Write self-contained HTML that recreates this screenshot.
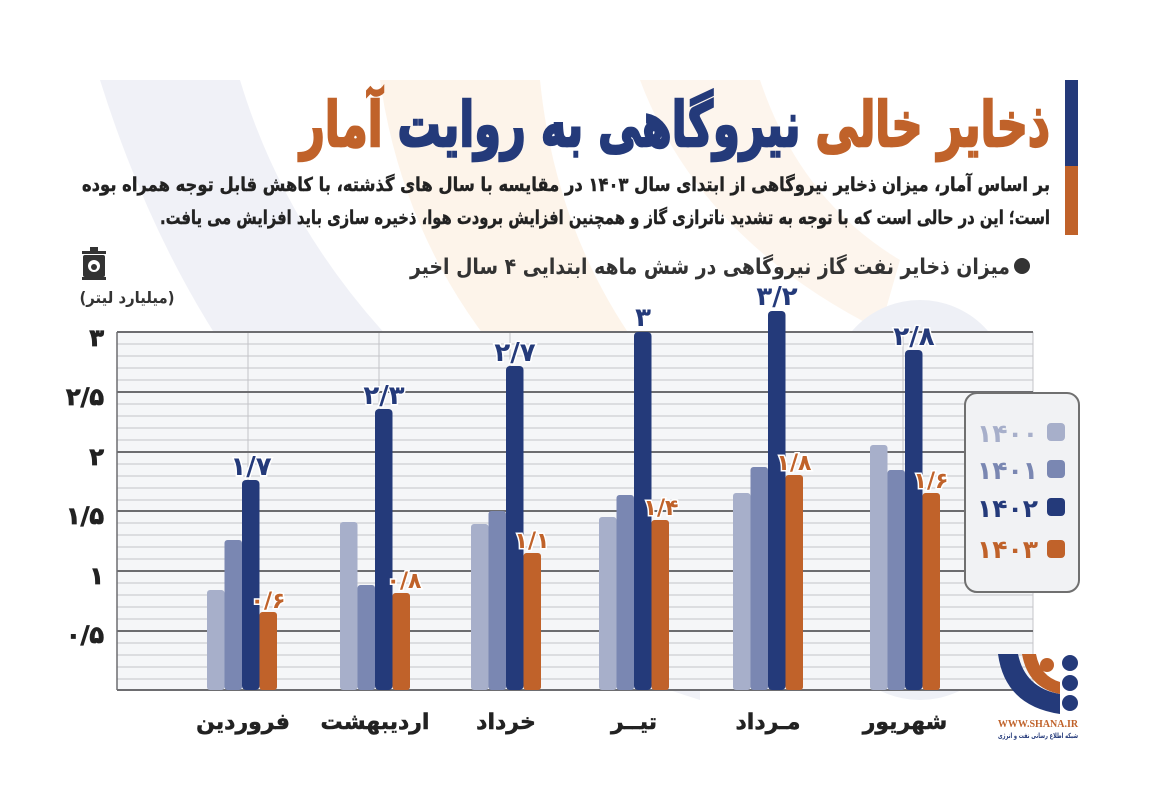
<!DOCTYPE html>
<html><head><meta charset="utf-8"><style>
html,body{margin:0;padding:0;background:#fff;}
svg{display:block;}
text{font-family:"DejaVu Sans",sans-serif;font-weight:bold;}
</style></head><body>
<svg width="1160" height="801" viewBox="0 0 1160 801" xmlns="http://www.w3.org/2000/svg">
<rect width="1160" height="801" fill="#fff"/>
<path d="M100 80 L240 80 Q330 380 700 560 L700 700 Q250 560 100 80 Z" fill="#eef0f6" opacity="0.9"/>
<path d="M380 80 L540 80 Q560 280 700 420 L700 520 Q420 360 380 80 Z" fill="#fdf3e8" opacity="0.9"/>
<path d="M640 80 L760 80 Q800 200 900 260 L880 330 Q700 240 640 80 Z" fill="#fdf3e8" opacity="0.8"/>
<circle cx="920" cy="390" r="90" fill="#eef0f6"/>
<circle cx="920" cy="610" r="90" fill="#eef0f6"/>
<rect x="830" y="390" width="180" height="220" fill="#eef0f6"/>

<rect x="1065" y="80" width="13" height="86" fill="#243a7a"/>
<rect x="1065" y="166" width="13" height="69" fill="#c0622a"/>

<text x="675" y="146" font-size="62" text-anchor="middle" direction="rtl" textLength="750" lengthAdjust="spacingAndGlyphs" stroke-width="2.5"><tspan fill="#c0622a" stroke="#c0622a">ذخایر خالی </tspan><tspan fill="#243a7a" stroke="#243a7a">نیروگاهی به روایت </tspan><tspan fill="#c0622a" stroke="#c0622a">آمار</tspan></text>

<text x="566" y="191" font-size="19" fill="#222" stroke="#222" stroke-width="0.4" text-anchor="middle" direction="rtl" textLength="968" lengthAdjust="spacingAndGlyphs">بر اساس آمار، میزان ذخایر نیروگاهی از ابتدای سال ۱۴۰۳ در مقایسه با سال های گذشته، با کاهش قابل توجه همراه بوده</text>
<text x="605" y="224" font-size="19" fill="#222" stroke="#222" stroke-width="0.4" text-anchor="middle" direction="rtl" textLength="890" lengthAdjust="spacingAndGlyphs">است؛ این در حالی است که با توجه به تشدید ناترازی گاز و همچنین افزایش برودت هوا، ذخیره سازی باید افزایش می یافت.</text>

<circle cx="1022" cy="266" r="8" fill="#333"/>
<text x="710" y="274" font-size="22" fill="#333" text-anchor="middle" direction="rtl" textLength="600" lengthAdjust="spacingAndGlyphs">میزان ذخایر نفت گاز نیروگاهی در شش ماهه ابتدایی ۴ سال اخیر</text>

<g fill="#333">
<rect x="82" y="251" width="24" height="3"/>
<rect x="90" y="247" width="8" height="4"/>
<rect x="83" y="255" width="22" height="22" rx="2"/>
<rect x="82" y="277" width="24" height="3"/>
<circle cx="94" cy="266" r="6" fill="#fff"/>
<circle cx="94" cy="267" r="3" fill="#333"/>
</g>
<text x="127" y="303" font-size="16" fill="#333" text-anchor="middle" direction="rtl" textLength="95" lengthAdjust="spacingAndGlyphs">(میلیارد لیتر)</text>

<rect x="117" y="332" width="916" height="358" fill="#f5f6f8"/>
<g stroke="#c4c4c8" stroke-width="1">
<line x1="117" x2="1033" y1="344" y2="344"/><line x1="117" x2="1033" y1="356" y2="356"/><line x1="117" x2="1033" y1="368" y2="368"/><line x1="117" x2="1033" y1="380" y2="380"/>
<line x1="117" x2="1033" y1="404" y2="404"/><line x1="117" x2="1033" y1="416" y2="416"/><line x1="117" x2="1033" y1="428" y2="428"/><line x1="117" x2="1033" y1="440" y2="440"/>
<line x1="117" x2="1033" y1="464" y2="464"/><line x1="117" x2="1033" y1="476" y2="476"/><line x1="117" x2="1033" y1="488" y2="488"/><line x1="117" x2="1033" y1="500" y2="500"/>
<line x1="117" x2="1033" y1="523" y2="523"/><line x1="117" x2="1033" y1="535" y2="535"/><line x1="117" x2="1033" y1="547" y2="547"/><line x1="117" x2="1033" y1="559" y2="559"/>
<line x1="117" x2="1033" y1="583" y2="583"/><line x1="117" x2="1033" y1="595" y2="595"/><line x1="117" x2="1033" y1="607" y2="607"/><line x1="117" x2="1033" y1="619" y2="619"/>
<line x1="117" x2="1033" y1="643" y2="643"/><line x1="117" x2="1033" y1="655" y2="655"/><line x1="117" x2="1033" y1="667" y2="667"/><line x1="117" x2="1033" y1="679" y2="679"/>
<line x1="248" x2="248" y1="332" y2="690"/><line x1="379" x2="379" y1="332" y2="690"/><line x1="510" x2="510" y1="332" y2="690"/><line x1="641" x2="641" y1="332" y2="690"/><line x1="772" x2="772" y1="332" y2="690"/><line x1="903" x2="903" y1="332" y2="690"/>
<line x1="1033" x2="1033" y1="332" y2="690"/>
</g>
<g stroke="#6d6d70" stroke-width="2">
<line x1="117" x2="1033" y1="332" y2="332"/><line x1="117" x2="1033" y1="392" y2="392"/><line x1="117" x2="1033" y1="452" y2="452"/><line x1="117" x2="1033" y1="511" y2="511"/><line x1="117" x2="1033" y1="571" y2="571"/><line x1="117" x2="1033" y1="631" y2="631"/><line x1="117" x2="1033" y1="690" y2="690"/>
<line x1="117" x2="117" y1="332" y2="690" stroke-width="1.5"/>
</g>

<g font-size="24" fill="#222" stroke="#222" stroke-width="0.8" text-anchor="end">
<text x="104" y="346">۳</text><text x="104" y="405">۲/۵</text><text x="104" y="465">۲</text><text x="104" y="524">۱/۵</text><text x="104" y="584">۱</text><text x="104" y="643">۰/۵</text>
</g>

<g>
<rect x="207" y="590" width="17.5" height="100" rx="3" fill="#a7afca"/>
<rect x="224.5" y="540" width="17.5" height="150" rx="3" fill="#7a87b2"/>
<rect x="242" y="480" width="17.5" height="210" rx="4" fill="#243a7a"/>
<rect x="259.5" y="612" width="17.5" height="78" rx="3" fill="#c0622a"/>
<rect x="340" y="522" width="17.5" height="168" rx="3" fill="#a7afca"/>
<rect x="357.5" y="585" width="17.5" height="105" rx="3" fill="#7a87b2"/>
<rect x="375" y="409" width="17.5" height="281" rx="4" fill="#243a7a"/>
<rect x="392.5" y="593" width="17.5" height="97" rx="3" fill="#c0622a"/>
<rect x="471" y="524" width="17.5" height="166" rx="3" fill="#a7afca"/>
<rect x="488.5" y="511" width="17.5" height="179" rx="3" fill="#7a87b2"/>
<rect x="506" y="366" width="17.5" height="324" rx="4" fill="#243a7a"/>
<rect x="523.5" y="553" width="17.5" height="137" rx="3" fill="#c0622a"/>
<rect x="599" y="517" width="17.5" height="173" rx="3" fill="#a7afca"/>
<rect x="616.5" y="495" width="17.5" height="195" rx="3" fill="#7a87b2"/>
<rect x="634" y="332" width="17.5" height="358" rx="4" fill="#243a7a"/>
<rect x="651.5" y="520" width="17.5" height="170" rx="3" fill="#c0622a"/>
<rect x="733" y="493" width="17.5" height="197" rx="3" fill="#a7afca"/>
<rect x="750.5" y="467" width="17.5" height="223" rx="3" fill="#7a87b2"/>
<rect x="768" y="311" width="17.5" height="379" rx="4" fill="#243a7a"/>
<rect x="785.5" y="475" width="17.5" height="215" rx="3" fill="#c0622a"/>
<rect x="870" y="445" width="17.5" height="245" rx="3" fill="#a7afca"/>
<rect x="887.5" y="470" width="17.5" height="220" rx="3" fill="#7a87b2"/>
<rect x="905" y="350" width="17.5" height="340" rx="4" fill="#243a7a"/>
<rect x="922.5" y="493" width="17.5" height="197" rx="3" fill="#c0622a"/>
</g>

<g font-size="26" fill="#243a7a" text-anchor="middle">
<text x="251" y="475" stroke="#fff" stroke-width="3" paint-order="stroke">۱/۷</text>
<text x="384" y="404" stroke="#fff" stroke-width="3" paint-order="stroke">۲/۳</text>
<text x="515" y="361" stroke="#fff" stroke-width="3" paint-order="stroke">۲/۷</text>
<text x="643" y="326" stroke="#fff" stroke-width="3" paint-order="stroke">۳</text>
<text x="777" y="305" stroke="#fff" stroke-width="3" paint-order="stroke">۳/۲</text>
<text x="914" y="345" stroke="#fff" stroke-width="3" paint-order="stroke">۲/۸</text>
</g>
<g font-size="22" fill="#c0622a" text-anchor="middle">
<text x="268" y="608" stroke="#fff" stroke-width="3" paint-order="stroke">۰/۶</text>
<text x="404" y="588" stroke="#fff" stroke-width="3" paint-order="stroke">۰/۸</text>
<text x="532" y="548" stroke="#fff" stroke-width="3" paint-order="stroke">۱/۱</text>
<text x="661" y="515" stroke="#fff" stroke-width="3" paint-order="stroke">۱/۴</text>
<text x="794" y="470" stroke="#fff" stroke-width="3" paint-order="stroke">۱/۸</text>
<text x="931" y="488" stroke="#fff" stroke-width="3" paint-order="stroke">۱/۶</text>
</g>

<g font-size="22" fill="#222" stroke="#222" stroke-width="0.5" text-anchor="middle">
<text x="243" y="729" direction="rtl">فروردین</text>
<text x="375" y="729" direction="rtl">اردیبهشت</text>
<text x="506" y="729" direction="rtl">خرداد</text>
<text x="634" y="729" direction="rtl">تیــر</text>
<text x="768" y="729" direction="rtl">مـرداد</text>
<text x="905" y="729" direction="rtl">شهریور</text>
</g>

<rect x="965" y="393" width="114" height="199" rx="12" fill="#f1f2f4" stroke="#707070" stroke-width="2"/>
<g font-size="25" text-anchor="end">
<text x="1038" y="442" fill="#a7afca">۱۴۰۰</text>
<text x="1038" y="479" fill="#7a87b2">۱۴۰۱</text>
<text x="1038" y="517" fill="#243a7a">۱۴۰۲</text>
<text x="1038" y="558" fill="#c0622a">۱۴۰۳</text>
</g>
<rect x="1047" y="423" width="18" height="18" rx="4" fill="#a7afca"/>
<rect x="1047" y="460" width="18" height="18" rx="4" fill="#7a87b2"/>
<rect x="1047" y="498" width="18" height="18" rx="4" fill="#243a7a"/>
<rect x="1047" y="540" width="18" height="18" rx="4" fill="#c0622a"/>

<path d="M998 654 L1018 654 Q1025 688 1060 694 L1060 714 Q1005 706 998 654 Z" fill="#243a7a"/>
<path d="M1022 654 L1036 654 Q1040 676 1060 682 L1060 694 Q1028 688 1022 654 Z" fill="#c0622a"/>
<circle cx="1047" cy="665" r="7" fill="#c0622a"/>
<circle cx="1070" cy="663" r="8" fill="#243a7a"/>
<circle cx="1070" cy="683" r="8" fill="#243a7a"/>
<circle cx="1070" cy="703" r="8" fill="#243a7a"/>
<text x="1038" y="727" font-size="10" fill="#c0622a" text-anchor="middle" style="font-family:'Liberation Serif',serif">WWW.SHANA.IR</text>
<text x="1038" y="738" font-size="7" fill="#243a7a" text-anchor="middle" direction="rtl" textLength="80" lengthAdjust="spacingAndGlyphs">شبکه اطلاع رسانی نفت و انرژی</text>
</svg>
</body></html>
